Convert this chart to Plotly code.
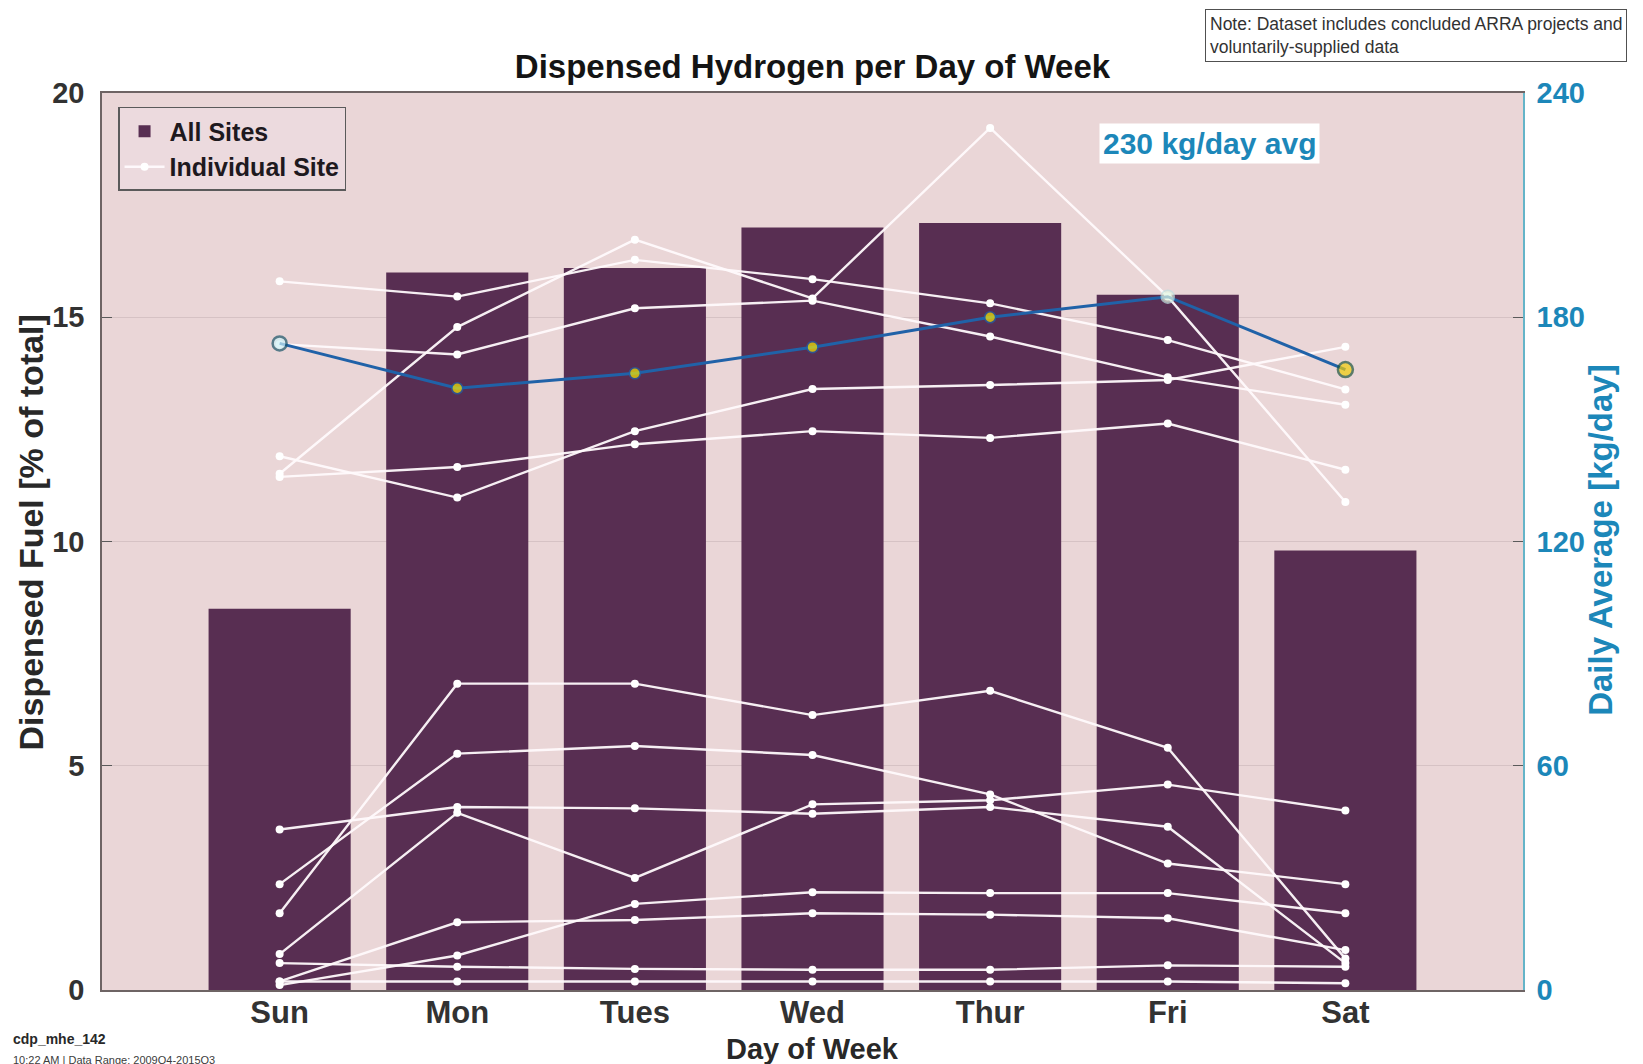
import plotly.graph_objects as go

# ---------------- data ----------------
days = ["Sun", "Mon", "Tues", "Wed", "Thur", "Fri", "Sat"]
all_sites = [8.5, 16.0, 16.1, 17.0, 17.1, 15.5, 9.8]          # % of total
daily_avg = [173, 161, 165, 172, 180, 185.5, 166]              # kg/day (right axis)

site_01 = [15.80, 15.46, 16.28, 15.85, 15.31, 14.49, 13.39]
site_02 = [11.51, 14.78, 16.73, 15.42, 19.22, 15.46, 10.88]
site_03 = [14.40, 14.17, 15.20, 15.37, 14.57, 13.66, 13.05]
site_04 = [11.90, 10.98, 12.46, 13.40, 13.49, 13.60, 14.34]
site_05 = [11.44, 11.66, 12.17, 12.46, 12.31, 12.63, 11.60]
site_06 = [1.71, 6.83, 6.83, 6.13, 6.67, 5.40, 0.70]
site_07 = [2.36, 5.27, 5.44, 5.24, 4.36, 2.82, 2.36]
site_08 = [3.58, 4.08, 4.05, 3.93, 4.08, 3.64, 0.60]
site_09 = [0.80, 3.95, 2.50, 4.14, 4.23, 4.58, 4.00]
site_10 = [0.19, 1.51, 1.56, 1.71, 1.68, 1.60, 0.89]
site_11 = [0.11, 0.77, 1.92, 2.18, 2.16, 2.16, 1.71]
site_12 = [0.60, 0.52, 0.47, 0.45, 0.45, 0.55, 0.52]
site_13 = [0.19, 0.19, 0.19, 0.19, 0.19, 0.19, 0.15]
sites = [site_01, site_02, site_03, site_04, site_05, site_06, site_07,
         site_08, site_09, site_10, site_11, site_12, site_13]

left_ticks = [0, 5, 10, 15, 20]
right_ticks = [0, 60, 120, 180, 240]

# ---------------- styles ----------------
BG = "rgb(234,214,215)"
BAR = "rgb(88,46,82)"
BLUE_LINE = "rgb(32,98,168)"
BLUE_TXT = "rgb(28,135,185)"
DARK = "rgb(40,40,40)"
FONT = "Arial, Liberation Sans, sans-serif"

avg_fill = ["rgb(205,240,245)", "rgb(248,232,0)", "rgb(248,232,0)", "rgb(248,232,0)",
            "rgb(248,232,0)", "rgb(225,245,225)", "rgb(240,205,10)"]
avg_edge = ["rgb(25,85,105)", BLUE_LINE, BLUE_LINE, BLUE_LINE, BLUE_LINE,
            "rgb(190,225,225)", "rgb(30,85,60)"]
avg_size = [14, 11, 11, 11, 11, 13, 15]
avg_edge_w = [2.5, 1.6, 1.6, 1.6, 1.6, 1.5, 2.5]

fig = go.Figure()

fig.add_trace(go.Bar(
    x=days, y=all_sites, name="All Sites", width=0.8,
    marker=dict(color=BAR, line=dict(width=0)),
))

for i, s in enumerate(sites):
    fig.add_trace(go.Scatter(
        x=days, y=s, mode="lines+markers", name="Individual Site",
        showlegend=(i == 0), legendgroup="ind",
        line=dict(color="rgba(255,250,252,0.95)", width=2.4),
        marker=dict(color="white", size=8),
    ))

fig.add_trace(go.Scatter(
    x=days, y=daily_avg, yaxis="y2", mode="lines+markers", showlegend=False,
    line=dict(color=BLUE_LINE, width=3),
    marker=dict(color=avg_fill, size=avg_size, line=dict(color=avg_edge, width=avg_edge_w)),
))

fig.update_layout(
    width=1643, height=1064,
    margin=dict(l=94, r=128, t=85, b=82),
    paper_bgcolor="white", plot_bgcolor=BG,
    font=dict(family=FONT, color=DARK),
    bargap=0.2,
    showlegend=True,
    legend=dict(
        x=0.0113, y=0.9844, xanchor="left", yanchor="top",
        bgcolor="rgb(236,218,222)", bordercolor="rgb(90,90,90)", borderwidth=1.5,
        font=dict(size=25, family=FONT, color="rgb(30,25,30)", weight="bold"),
        tracegroupgap=0, itemwidth=40,
    ),
    xaxis=dict(
        type="category", range=[-1, 7], showgrid=False,
        showline=True, linecolor="rgb(110,100,100)", linewidth=1.5, mirror=True,
        ticks="", ticklen=0,
        tickfont=dict(size=31, family=FONT, color="rgb(50,50,50)", weight="bold"),
        ticklabelstandoff=-6,
    ),
    yaxis=dict(
        range=[0, 20], tickvals=left_ticks, showgrid=True,
        gridcolor="rgb(214,194,196)", gridwidth=1, zeroline=False,
        showline=True, linecolor="rgb(110,100,100)", linewidth=1.5,
        ticks="inside", ticklen=10, tickcolor="rgb(90,90,90)",
        tickfont=dict(size=29, family=FONT, color="rgb(50,50,50)", weight="bold"),
        ticklabelstandoff=10,
    ),
    yaxis2=dict(
        range=[0, 240], tickvals=right_ticks, overlaying="y", side="right",
        showgrid=False, zeroline=False,
        showline=True, linecolor="rgb(100,180,200)", linewidth=1.5,
        ticks="inside", ticklen=10, tickcolor="rgb(90,90,90)",
        tickfont=dict(size=29, family=FONT, color=BLUE_TXT, weight="bold"),
        ticklabelstandoff=6,
    ),
    title=dict(
        text="Dispensed Hydrogen per Day of Week",
        x=0.5, xref="paper", xanchor="center",
        y=1 - 58 / 1064, yref="container", yanchor="middle",
        font=dict(size=33, family=FONT, color="rgb(20,20,20)", weight="bold"),
    ),
)

annotations = [
    dict(text="Day of Week", x=0.5, y=(982 - 1041) / 897, xref="paper", yref="paper",
         xanchor="center", yanchor="middle", showarrow=False,
         font=dict(size=29, family=FONT, color="rgb(40,40,40)", weight="bold")),
    dict(text="Dispensed Fuel [% of total]", x=-0.05, y=0.51, xref="paper", yref="paper",
         xanchor="center", yanchor="middle", textangle=-90, showarrow=False,
         font=dict(size=34, family=FONT, color="rgb(40,40,40)", weight="bold")),
    dict(text="Daily Average [kg/day]", x=1.055, y=0.502, xref="paper", yref="paper",
         xanchor="center", yanchor="middle", textangle=-90, showarrow=False,
         font=dict(size=33, family=FONT, color=BLUE_TXT, weight="bold")),
    dict(text="230 kg/day avg", x=0.7795, y=0.9436, xref="paper", yref="paper",
         xanchor="center", yanchor="middle", showarrow=False, bgcolor="white",
         borderpad=3,
         font=dict(size=30, family=FONT, color=BLUE_TXT, weight="bold")),
    dict(text="Note: Dataset includes concluded ARRA projects and<br>voluntarily-supplied data",
         x=0.776, y=1.0935, xref="paper", yref="paper", xanchor="left", yanchor="top",
         align="left", showarrow=False, bgcolor="white", bordercolor="rgb(80,80,80)",
         borderwidth=1, borderpad=4,
         font=dict(size=17.5, family=FONT, color="rgb(50,50,50)")),
    dict(text="cdp_mhe_142", x=(3 - 94) / 1421, y=(982 - 1031) / 897,
         xref="paper", yref="paper",
         xanchor="left", yanchor="middle", showarrow=False,
         font=dict(size=14, family=FONT, color="rgb(40,40,40)", weight="bold")),
    dict(text="10:22 AM | Data Range: 2009Q4-2015Q3", x=(3 - 94) / 1421, y=(982 - 1052) / 897,
         xref="paper", yref="paper", xanchor="left", yanchor="middle", showarrow=False,
         font=dict(size=11, family=FONT, color="rgb(60,60,60)")),
]
fig.update_layout(annotations=annotations)

fig.write_html("out.html")
